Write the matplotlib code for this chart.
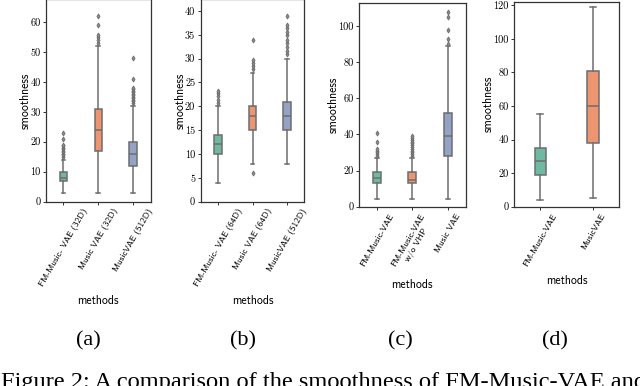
import colorsys
import matplotlib
matplotlib.use("Agg")
import matplotlib.pyplot as plt
import matplotlib.colors as mcolors

W, H = 640, 386

# (a)
a_labels = ['FM-Music- VAE (32D)', 'Music VAE (32D)', 'MusicVAE (512D)']
a_med = [8, 24, 16]
a_q1 = [7, 17, 12]
a_q3 = [10, 31, 20]
a_lo = [3, 3, 3]
a_hi = [14, 52, 32]
a_fliers = [[15, 15.5, 16, 16.5, 17, 17.5, 18, 18.5, 19, 21, 23],
            [53, 54, 55, 55.7, 59, 62],
            [33, 33.5, 34, 34.5, 35, 35.5, 36, 36.5, 37, 37.5, 38, 41, 48]]

# (b)
b_labels = ['FM-Music- VAE (64D)', 'Music VAE (64D)', 'MusicVAE (512D)']
b_med = [12, 18, 18]
b_q1 = [10, 15, 15]
b_q3 = [14, 20, 21]
b_lo = [4, 8, 8]
b_hi = [20, 27, 30]
b_fliers = [[20.7, 21.4, 22.1, 22.8, 23.3],
            [6, 27.8, 28.4, 29.1, 29.8, 34],
            [31, 31.7, 32.5, 33.2, 34, 35, 35.5, 36.5, 37, 39]]

# (c)
c_labels = ['FM-Music-VAE', 'FM-Music-VAE\nw/o VHP', 'Music VAE']
c_med = [16, 15, 39]
c_q1 = [13, 13, 28]
c_q3 = [19, 19, 52]
c_lo = [4, 4, 4]
c_hi = [27, 27, 89]
c_fliers = [[28, 29, 30, 31, 32, 36, 41],
            [28, 29, 30, 31, 32, 33, 34, 35, 36, 37, 38, 39],
            [90, 93, 98, 105, 108]]

# (d)
d_labels = ['FM-Music-VAE', 'MusicVAE']
d_med = [27, 60]
d_q1 = [19, 38]
d_q3 = [35, 81]
d_lo = [4, 5]
d_hi = [55, 119]
d_fliers = [[], []]

palette = ['#66c2a5', '#fc8d62', '#8da0cb']
line_col = '#6e6e6e'


def desat(c, s=0.8):
    r, g, b = mcolors.to_rgb(c)
    h, l, sat = colorsys.rgb_to_hls(r, g, b)
    return colorsys.hls_to_rgb(h, l, sat * s)


def rect(l, t, r, b):
    return [l / W, 1 - b / H, (r - l) / W, (b - t) / H]


def panel(box, labels, med, q1, q3, lo, hi, fliers, ymax):
    ax = fig.add_axes(box)
    stats = []
    for i in range(len(labels)):
        stats.append(dict(med=med[i], q1=q1[i], q3=q3[i], whislo=lo[i],
                          whishi=hi[i], fliers=fliers[i], label=labels[i]))
    bp = ax.bxp(stats, positions=range(len(labels)), widths=0.22,
                patch_artist=True,
                boxprops=dict(edgecolor=line_col, linewidth=1.1),
                medianprops=dict(color=line_col, linewidth=1.1),
                whiskerprops=dict(color=line_col, linewidth=1.1),
                capprops=dict(color=line_col, linewidth=1.1),
                flierprops=dict(marker='d', markersize=2.6,
                                markerfacecolor='#8a8a8a',
                                markeredgecolor=line_col, markeredgewidth=0.6))
    for patch, c in zip(bp['boxes'], palette):
        patch.set_facecolor(desat(c))
    ax.set_xlim(-0.5, len(labels) - 0.5)
    ax.set_ylim(0, ymax)
    ax.set_xticks(range(len(labels)))
    ax.set_xticklabels(labels, rotation=60, fontsize=6.6, family='cmss10',
                       linespacing=1.15)
    ax.tick_params(axis='y', labelfontfamily='cmr10', labelsize=7.4)
    ax.set_ylabel('smoothness', family='cmss10', fontsize=8.5, labelpad=-1)
    ax.set_xlabel('methods', family='cmss10', fontsize=8.5, labelpad=5)
    ax.tick_params(length=2.5, width=0.7, pad=1.5, color='#333333')
    for sp in ax.spines.values():
        sp.set_color('#333333')
        sp.set_linewidth(0.9)
    return ax


fig = plt.figure(figsize=(W / 100, H / 100), dpi=100)

panel(rect(46, -1, 150.7, 201.7), a_labels, a_med, a_q1, a_q3, a_lo, a_hi,
      a_fliers, 67.6)
panel(rect(200.7, -1, 304.3, 201.7), b_labels, b_med, b_q1, b_q3, b_lo, b_hi,
      b_fliers, 42.5)
panel(rect(359, 2.7, 465.7, 206.7), c_labels, c_med, c_q1, c_q3, c_lo, c_hi,
      c_fliers, 112.9)
panel(rect(514, 1.7, 619.3, 206.7), d_labels, d_med, d_q1, d_q3, d_lo, d_hi,
      d_fliers, 122.1)

for x, s in zip([88, 243, 400, 555], ['(a)', '(b)', '(c)', '(d)']):
    fig.text(x / W, 1 - 341 / H, s, ha='center', va='center',
             family='Liberation Serif', fontsize=16)

fig.text(1 / W, 1 - 372 / H,
         'Figure 2: A comparison of the smoothness of FM-Music-VAE and',
         ha='left', va='top', family='Liberation Serif', fontsize=17.6)

fig.savefig('out.png', dpi=100)
